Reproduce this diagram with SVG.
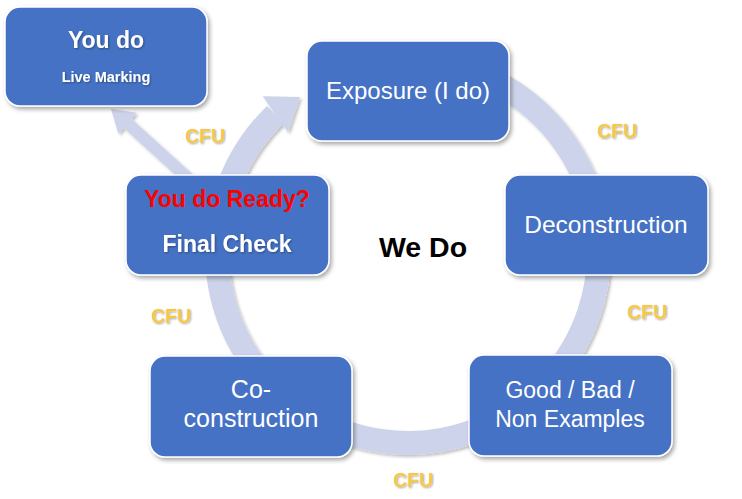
<svg xmlns="http://www.w3.org/2000/svg" width="742" height="499" viewBox="0 0 742 499">
<defs>
<style>
.box{fill:#4472C4;stroke:#FFFFFF;stroke-width:1.5;filter:url(#sh)}
.t{font-family:"Liberation Sans",Arial,sans-serif;fill:#FFFFFF;text-anchor:middle}
.b{font-weight:bold}
.cfu{font-family:"Liberation Sans",Arial,sans-serif;font-weight:bold;font-size:19.5px;fill:#F7C844;text-anchor:middle;filter:url(#tsh)}
.ring{fill:none;stroke:#CDD3EA}
</style>
<filter id="sh" x="-10%" y="-10%" width="125%" height="130%">
<feDropShadow dx="2" dy="2.5" stdDeviation="2" flood-color="#000" flood-opacity="0.35"/>
</filter>
<filter id="rsh" x="-10%" y="-10%" width="125%" height="125%">
<feDropShadow dx="2" dy="2" stdDeviation="1.5" flood-color="#000" flood-opacity="0.25"/>
</filter>
<filter id="tsh" x="-10%" y="-20%" width="130%" height="150%">
<feDropShadow dx="1" dy="1" stdDeviation="0.8" flood-color="#000" flood-opacity="0.35"/>
</filter>
</defs>
<rect width="742" height="499" fill="#FFFFFF"/>
<g id="connectors" filter="url(#rsh)">
<path class="ring" stroke-width="24" d="M424.7 61.7 A191 191 0 1 1 275.3 114.6"/>
<polygon fill="#CDD3EA" points="262.8,96.2 300,97 288,132.2"/>
<line x1="190" y1="180" x2="127.6" y2="123.4" stroke="#CDD3EA" stroke-width="12"/>
<polygon fill="#CDD3EA" points="136.8,112.8 111,109 118.4,134"/>
</g>
<g id="you-do">
<rect class="box" x="5" y="7" width="202" height="99" rx="15"/>
<text class="t b" x="106" y="48" font-size="23" filter="url(#tsh)">You do</text>
<text class="t b" x="106" y="82" font-size="14.5" filter="url(#tsh)">Live Marking</text>
</g>
<g id="exposure">
<rect class="box" x="307" y="41" width="202" height="100" rx="15"/>
<text class="t" x="408" y="99" font-size="24">Exposure (I do)</text>
</g>
<g id="deconstruction">
<rect class="box" x="505" y="175" width="203" height="100" rx="15"/>
<text class="t" x="606" y="233" font-size="24.5">Deconstruction</text>
</g>
<g id="good-bad">
<rect class="box" x="469" y="355" width="203" height="101" rx="15"/>
<text class="t" x="570" y="398" font-size="23">Good / Bad /</text>
<text class="t" x="570" y="427" font-size="23">Non Examples</text>
</g>
<g id="co-construction">
<rect class="box" x="150" y="356" width="202" height="101" rx="15"/>
<text class="t" x="251" y="398" font-size="25">Co-</text>
<text class="t" x="251" y="427" font-size="25">construction</text>
</g>
<g id="final-check">
<rect class="box" x="126" y="175" width="203" height="100" rx="15"/>
<text class="t b" x="227" y="207" font-size="23" fill="#FF0000" style="fill:#FF0000">You do Ready?</text>
<text class="t b" x="227" y="252" font-size="23" filter="url(#tsh)">Final Check</text>
</g>
<g id="we-do">
<text x="423" y="257" font-family="Liberation Sans, Arial, sans-serif" font-weight="bold" font-size="28.5" fill="#000000" text-anchor="middle">We Do</text>
</g>
<g id="cfu-labels">
<text class="cfu" x="205" y="143">CFU</text>
<text class="cfu" x="617" y="138">CFU</text>
<text class="cfu" x="647" y="319">CFU</text>
<text class="cfu" x="413" y="487">CFU</text>
<text class="cfu" x="171" y="323">CFU</text>
</g>
</svg>
